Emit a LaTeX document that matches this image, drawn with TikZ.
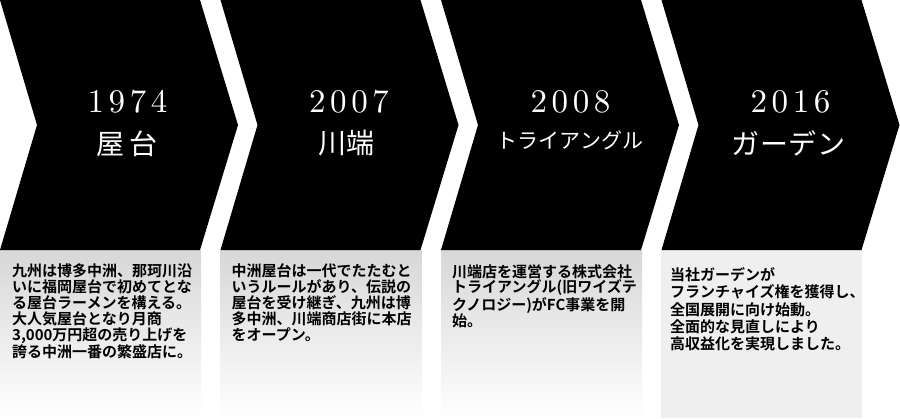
\documentclass[tikz,border=0pt]{standalone}
\usepackage{fontspec}
\newfontfamily\jp{Noto Sans CJK JP}[BoldFont={* Bold}]
\newfontfamily\yearfont{lmroman10-regular.otf}[LetterSpace=14]
\definecolor{boxtop}{RGB}{215,215,215}
\definecolor{boxflat}{RGB}{239,239,239}
\tikzset{
  chev/.style={fill=black,draw=none},
  year/.style={text=white,inner sep=0pt,font=\yearfont\fontsize{33}{33}\selectfont},
  ttl/.style={text=white,inner sep=0pt,font=\jp\fontsize{28}{28}\selectfont\addfontfeature{LetterSpace=16}},
  ttlnarrow/.style={text=white,inner sep=0pt,font=\jp\fontsize{28}{28}\selectfont\addfontfeature{LetterSpace=2}},
  ttlsmall/.style={text=white,inner sep=0pt,font=\jp\fontsize{21}{21}\selectfont},
  body/.style={anchor=north west,inner sep=0pt,align=left,text=black,font=\jp\bfseries\fontsize{15}{16}\selectfont},
  bodywide/.style={body,font=\jp\bfseries\fontsize{15}{17.4}\selectfont}
}
\begin{document}
\begin{tikzpicture}[x=1pt,y=-1pt]
\useasboundingbox (0,0) rectangle (900,418);
\fill[white] (0,0) rectangle (900,418);
% boxes
\shade[top color=boxtop,bottom color=white] (0,250) rectangle (201,418);
\shade[top color=boxtop,bottom color=white] (220.5,250) rectangle (421.5,418);
\shade[top color=boxtop,bottom color=white] (441,250) rectangle (642,418);
\fill[boxflat] (661,250) rectangle (861.5,418);
% chevrons
\foreach \xo in {0,220.5,441,661.5}{
  \fill[chev] (\xo,0) -- ++(200,0) -- ++(38,125) -- ++(-38,125) -- ++(-200,0) -- ++(37,-125) -- cycle;
}
% headings
\node[year] (y1) at (127.5,101.5) {1974};
\node[ttl] (t1) at (127,143.5) {屋台};
\node[year] (y2) at (349,101.5) {2007};
\node[ttlnarrow] (t2) at (346.5,142.5) {川端};
\node[year] (y3) at (570.5,102) {2008};
\node[ttlsmall] (t3) at (570,140) {トライアングル};
\node[year] (y4) at (790.5,102) {2016};
\node[ttlnarrow] (t4) at (788.5,143.5) {ガーデン};
% body texts
\node[body] (b1) at (12,263) {九州は博多中洲、那珂川沿\\いに福岡屋台で初めてとな\\る屋台ラーメンを構える。\\大人気屋台となり月商\\3,000万円超の売り上げを\\誇る中洲一番の繁盛店に。};
\node[body] (b2) at (231.5,263) {中洲屋台は一代でたたむと\\いうルールがあり、伝説の\\屋台を受け継ぎ、九州は博\\多中洲、川端商店街に本店\\をオープン。};
\node[body] (b3) at (452,264) {川端店を運営する株式会社\\トライアングル(旧ワイズテ\\クノロジー)がFC事業を開\\始。};
\node[bodywide] (b4) at (670,267) {当社ガーデンが\\フランチャイズ権を獲得し、\\全国展開に向け始動。\\全面的な見直しにより\\高収益化を実現しました。};
\end{tikzpicture}
\end{document}
